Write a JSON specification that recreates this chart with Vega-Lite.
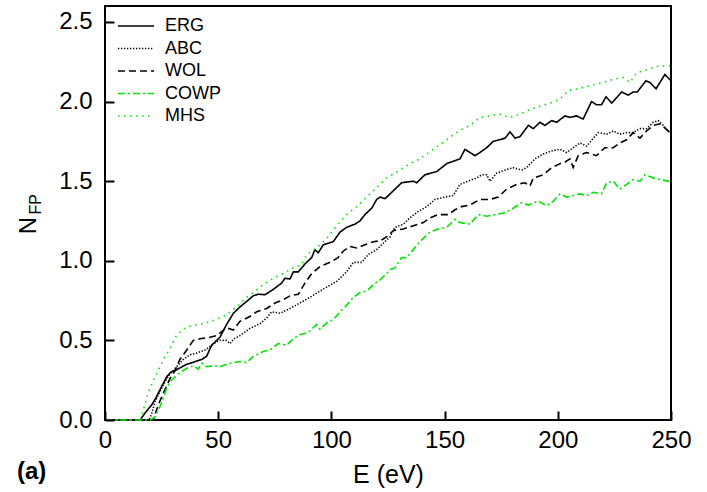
{
  "$schema": "https://vega.github.io/schema/vega-lite/v6.json",
  "width": 566,
  "height": 414,
  "autosize": {"type": "none"},
  "padding": {"left": 105, "top": 6, "right": 36, "bottom": 72},
  "background": "white",
  "config": {
    "font": "Liberation Sans",
    "view": {"stroke": "black", "strokeWidth": 2},
    "axis": {
      "grid": false,
      "labelFlush": false,
      "labelOverlap": false,
      "labelFont": "Liberation Sans",
      "labelFontSize": 24,
      "labelColor": "black",
      "titleFont": "Liberation Sans",
      "titleFontSize": 25,
      "titleFontWeight": "normal",
      "titleColor": "black"
    },
    "legend": {
      "orient": "none",
      "legendX": 12,
      "legendY": 10,
      "padding": 0,
      "title": null,
      "symbolType": "stroke",
      "symbolSize": 1296,
      "symbolStrokeWidth": 1.6,
      "labelFont": "Liberation Sans",
      "labelFontSize": 18,
      "labelColor": "black",
      "labelOffset": 10,
      "clipHeight": 20,
      "rowPadding": 2.5
    }
  },
  "title": {
    "text": "(a)",
    "orient": "bottom",
    "anchor": "start",
    "frame": "group",
    "font": "Liberation Sans",
    "fontSize": 24,
    "fontWeight": "bold",
    "color": "black",
    "dx": -88,
    "offset": -27
  },
  "data": {"values": [
    {"s":"ERG","E":0,"N":0},{"s":"ERG","E":5,"N":0},{"s":"ERG","E":10,"N":0},{"s":"ERG","E":15.5,"N":0},{"s":"ERG","E":18,"N":0.05},{"s":"ERG","E":20.6,"N":0.094},{"s":"ERG","E":22.5,"N":0.14},{"s":"ERG","E":24.3,"N":0.19},{"s":"ERG","E":27.2,"N":0.27},{"s":"ERG","E":29,"N":0.3},{"s":"ERG","E":30.9,"N":0.31},{"s":"ERG","E":33.5,"N":0.33},{"s":"ERG","E":36.1,"N":0.35},{"s":"ERG","E":38.5,"N":0.36},{"s":"ERG","E":40.5,"N":0.37},{"s":"ERG","E":42.7,"N":0.38},{"s":"ERG","E":44.9,"N":0.4},{"s":"ERG","E":47.1,"N":0.47},{"s":"ERG","E":48.6,"N":0.49},{"s":"ERG","E":50.8,"N":0.52},{"s":"ERG","E":53.7,"N":0.6},{"s":"ERG","E":56.7,"N":0.67},{"s":"ERG","E":59.6,"N":0.71},{"s":"ERG","E":62.6,"N":0.745},{"s":"ERG","E":65.5,"N":0.78},{"s":"ERG","E":67.7,"N":0.79},{"s":"ERG","E":70.7,"N":0.787},{"s":"ERG","E":74.3,"N":0.82},{"s":"ERG","E":78,"N":0.86},{"s":"ERG","E":79.5,"N":0.89},{"s":"ERG","E":81.7,"N":0.886},{"s":"ERG","E":83.2,"N":0.93},{"s":"ERG","E":85.4,"N":0.93},{"s":"ERG","E":88.3,"N":0.98},{"s":"ERG","E":91.3,"N":1.02},{"s":"ERG","E":92.7,"N":1.07},{"s":"ERG","E":94.2,"N":1.05},{"s":"ERG","E":96.4,"N":1.1},{"s":"ERG","E":100.8,"N":1.12},{"s":"ERG","E":103.8,"N":1.18},{"s":"ERG","E":106.7,"N":1.21},{"s":"ERG","E":110.4,"N":1.23},{"s":"ERG","E":112.6,"N":1.25},{"s":"ERG","E":114.8,"N":1.29},{"s":"ERG","E":117.8,"N":1.33},{"s":"ERG","E":120,"N":1.385},{"s":"ERG","E":121.5,"N":1.4},{"s":"ERG","E":123.7,"N":1.39},{"s":"ERG","E":125.9,"N":1.42},{"s":"ERG","E":127.4,"N":1.44},{"s":"ERG","E":131,"N":1.49},{"s":"ERG","E":136.2,"N":1.5},{"s":"ERG","E":137.7,"N":1.49},{"s":"ERG","E":141.3,"N":1.54},{"s":"ERG","E":146.5,"N":1.56},{"s":"ERG","E":150.9,"N":1.61},{"s":"ERG","E":156.8,"N":1.64},{"s":"ERG","E":159,"N":1.7},{"s":"ERG","E":163.4,"N":1.66},{"s":"ERG","E":165.6,"N":1.68},{"s":"ERG","E":168.6,"N":1.71},{"s":"ERG","E":171.5,"N":1.75},{"s":"ERG","E":176.7,"N":1.77},{"s":"ERG","E":178.9,"N":1.81},{"s":"ERG","E":181.1,"N":1.77},{"s":"ERG","E":183.3,"N":1.78},{"s":"ERG","E":187,"N":1.85},{"s":"ERG","E":189.2,"N":1.83},{"s":"ERG","E":192.1,"N":1.87},{"s":"ERG","E":194.3,"N":1.85},{"s":"ERG","E":197.3,"N":1.88},{"s":"ERG","E":199.5,"N":1.87},{"s":"ERG","E":203.2,"N":1.91},{"s":"ERG","E":205.4,"N":1.9},{"s":"ERG","E":208.3,"N":1.91},{"s":"ERG","E":211.2,"N":1.89},{"s":"ERG","E":214.9,"N":2.0},{"s":"ERG","E":217.1,"N":1.98},{"s":"ERG","E":219.3,"N":1.98},{"s":"ERG","E":221.3,"N":2.03},{"s":"ERG","E":223.8,"N":1.99},{"s":"ERG","E":228.2,"N":2.06},{"s":"ERG","E":231.1,"N":2.04},{"s":"ERG","E":233.3,"N":2.06},{"s":"ERG","E":235.1,"N":2.06},{"s":"ERG","E":238.9,"N":2.13},{"s":"ERG","E":240.7,"N":2.12},{"s":"ERG","E":243.4,"N":2.08},{"s":"ERG","E":247.3,"N":2.17},{"s":"ERG","E":250,"N":2.13},

    {"s":"ABC","E":0,"N":0},{"s":"ABC","E":10,"N":0},{"s":"ABC","E":19.5,"N":0},{"s":"ABC","E":20.6,"N":0.04},{"s":"ABC","E":22.1,"N":0.115},{"s":"ABC","E":24.3,"N":0.18},{"s":"ABC","E":26.5,"N":0.24},{"s":"ABC","E":28.7,"N":0.29},{"s":"ABC","E":31.7,"N":0.335},{"s":"ABC","E":34.6,"N":0.38},{"s":"ABC","E":37.5,"N":0.41},{"s":"ABC","E":40.5,"N":0.42},{"s":"ABC","E":44.2,"N":0.44},{"s":"ABC","E":47.1,"N":0.47},{"s":"ABC","E":49.3,"N":0.49},{"s":"ABC","E":50.8,"N":0.5},{"s":"ABC","E":53.7,"N":0.5},{"s":"ABC","E":55.2,"N":0.48},{"s":"ABC","E":57,"N":0.51},{"s":"ABC","E":59.6,"N":0.53},{"s":"ABC","E":64,"N":0.575},{"s":"ABC","E":68.5,"N":0.605},{"s":"ABC","E":71.4,"N":0.64},{"s":"ABC","E":73.6,"N":0.68},{"s":"ABC","E":77.3,"N":0.67},{"s":"ABC","E":81.7,"N":0.7},{"s":"ABC","E":86.1,"N":0.735},{"s":"ABC","E":90.5,"N":0.77},{"s":"ABC","E":95,"N":0.81},{"s":"ABC","E":98.6,"N":0.84},{"s":"ABC","E":102.3,"N":0.87},{"s":"ABC","E":106.7,"N":0.93},{"s":"ABC","E":109.7,"N":0.99},{"s":"ABC","E":113.4,"N":0.99},{"s":"ABC","E":116.3,"N":1.04},{"s":"ABC","E":120,"N":1.07},{"s":"ABC","E":122.9,"N":1.11},{"s":"ABC","E":125.9,"N":1.15},{"s":"ABC","E":128.1,"N":1.21},{"s":"ABC","E":131.8,"N":1.23},{"s":"ABC","E":134.7,"N":1.27},{"s":"ABC","E":138.4,"N":1.31},{"s":"ABC","E":142.1,"N":1.34},{"s":"ABC","E":145.8,"N":1.385},{"s":"ABC","E":150.2,"N":1.4},{"s":"ABC","E":153.8,"N":1.41},{"s":"ABC","E":156.8,"N":1.48},{"s":"ABC","E":160.4,"N":1.5},{"s":"ABC","E":164.2,"N":1.52},{"s":"ABC","E":166.4,"N":1.54},{"s":"ABC","E":168.6,"N":1.54},{"s":"ABC","E":170,"N":1.5},{"s":"ABC","E":173,"N":1.55},{"s":"ABC","E":176.7,"N":1.57},{"s":"ABC","E":180.3,"N":1.585},{"s":"ABC","E":184,"N":1.57},{"s":"ABC","E":186.2,"N":1.585},{"s":"ABC","E":189.9,"N":1.64},{"s":"ABC","E":193.6,"N":1.67},{"s":"ABC","E":197.3,"N":1.69},{"s":"ABC","E":201,"N":1.7},{"s":"ABC","E":203.9,"N":1.68},{"s":"ABC","E":206.8,"N":1.71},{"s":"ABC","E":209.8,"N":1.74},{"s":"ABC","E":212.7,"N":1.72},{"s":"ABC","E":215.7,"N":1.77},{"s":"ABC","E":217.9,"N":1.805},{"s":"ABC","E":221.6,"N":1.795},{"s":"ABC","E":224.5,"N":1.815},{"s":"ABC","E":227.4,"N":1.795},{"s":"ABC","E":230.4,"N":1.805},{"s":"ABC","E":233.3,"N":1.805},{"s":"ABC","E":236.3,"N":1.83},{"s":"ABC","E":239.2,"N":1.83},{"s":"ABC","E":242.2,"N":1.87},{"s":"ABC","E":244.4,"N":1.88},{"s":"ABC","E":246.6,"N":1.85},{"s":"ABC","E":248.8,"N":1.815},{"s":"ABC","E":250,"N":1.8},

    {"s":"WOL","E":0,"N":0},{"s":"WOL","E":10,"N":0},{"s":"WOL","E":21.3,"N":0},{"s":"WOL","E":23.5,"N":0.094},{"s":"WOL","E":25.8,"N":0.17},{"s":"WOL","E":28.7,"N":0.26},{"s":"WOL","E":30.9,"N":0.31},{"s":"WOL","E":33.1,"N":0.38},{"s":"WOL","E":36.1,"N":0.44},{"s":"WOL","E":39,"N":0.5},{"s":"WOL","E":42,"N":0.51},{"s":"WOL","E":46.4,"N":0.52},{"s":"WOL","E":49.3,"N":0.53},{"s":"WOL","E":53.7,"N":0.58},{"s":"WOL","E":56.7,"N":0.565},{"s":"WOL","E":59.6,"N":0.62},{"s":"WOL","E":64,"N":0.65},{"s":"WOL","E":67,"N":0.68},{"s":"WOL","E":71.4,"N":0.7},{"s":"WOL","E":75.1,"N":0.735},{"s":"WOL","E":78.7,"N":0.755},{"s":"WOL","E":81.7,"N":0.78},{"s":"WOL","E":85.4,"N":0.79},{"s":"WOL","E":88.3,"N":0.86},{"s":"WOL","E":91.3,"N":0.92},{"s":"WOL","E":95,"N":0.965},{"s":"WOL","E":99.4,"N":0.99},{"s":"WOL","E":103,"N":1.02},{"s":"WOL","E":105.2,"N":1.06},{"s":"WOL","E":108.2,"N":1.09},{"s":"WOL","E":111.2,"N":1.08},{"s":"WOL","E":114.8,"N":1.1},{"s":"WOL","E":118.5,"N":1.12},{"s":"WOL","E":121.5,"N":1.125},{"s":"WOL","E":124.4,"N":1.15},{"s":"WOL","E":127.4,"N":1.19},{"s":"WOL","E":131.8,"N":1.2},{"s":"WOL","E":136.2,"N":1.22},{"s":"WOL","E":140.6,"N":1.24},{"s":"WOL","E":143.6,"N":1.27},{"s":"WOL","E":147.2,"N":1.29},{"s":"WOL","E":151.6,"N":1.29},{"s":"WOL","E":154.6,"N":1.32},{"s":"WOL","E":157.5,"N":1.34},{"s":"WOL","E":161.2,"N":1.35},{"s":"WOL","E":165.6,"N":1.385},{"s":"WOL","E":170,"N":1.385},{"s":"WOL","E":173.7,"N":1.4},{"s":"WOL","E":177.4,"N":1.45},{"s":"WOL","E":181.8,"N":1.48},{"s":"WOL","E":185.5,"N":1.49},{"s":"WOL","E":187.7,"N":1.47},{"s":"WOL","E":189.2,"N":1.52},{"s":"WOL","E":193.6,"N":1.54},{"s":"WOL","E":197.3,"N":1.585},{"s":"WOL","E":201,"N":1.61},{"s":"WOL","E":203.2,"N":1.62},{"s":"WOL","E":205.4,"N":1.64},{"s":"WOL","E":206.8,"N":1.585},{"s":"WOL","E":209,"N":1.66},{"s":"WOL","E":212.7,"N":1.68},{"s":"WOL","E":217.1,"N":1.66},{"s":"WOL","E":220.8,"N":1.71},{"s":"WOL","E":224.5,"N":1.71},{"s":"WOL","E":227.4,"N":1.74},{"s":"WOL","E":230.4,"N":1.76},{"s":"WOL","E":233.3,"N":1.805},{"s":"WOL","E":236.3,"N":1.77},{"s":"WOL","E":239.2,"N":1.815},{"s":"WOL","E":242.2,"N":1.85},{"s":"WOL","E":245.1,"N":1.86},{"s":"WOL","E":248.8,"N":1.815},{"s":"WOL","E":250,"N":1.82},

    {"s":"COWP","E":0,"N":0},{"s":"COWP","E":10,"N":0},{"s":"COWP","E":20,"N":0},{"s":"COWP","E":22.1,"N":0.02},{"s":"COWP","E":24.3,"N":0.085},{"s":"COWP","E":25.8,"N":0.14},{"s":"COWP","E":27.2,"N":0.2},{"s":"COWP","E":29.4,"N":0.25},{"s":"COWP","E":32.4,"N":0.29},{"s":"COWP","E":36.1,"N":0.325},{"s":"COWP","E":39,"N":0.34},{"s":"COWP","E":41.2,"N":0.32},{"s":"COWP","E":42.7,"N":0.357},{"s":"COWP","E":44.9,"N":0.335},{"s":"COWP","E":47.8,"N":0.34},{"s":"COWP","E":50.8,"N":0.335},{"s":"COWP","E":55.2,"N":0.357},{"s":"COWP","E":59.6,"N":0.367},{"s":"COWP","E":62.6,"N":0.36},{"s":"COWP","E":65.5,"N":0.4},{"s":"COWP","E":69.9,"N":0.43},{"s":"COWP","E":72.9,"N":0.44},{"s":"COWP","E":76.5,"N":0.48},{"s":"COWP","E":80.2,"N":0.47},{"s":"COWP","E":83.2,"N":0.51},{"s":"COWP","E":86.1,"N":0.535},{"s":"COWP","E":89.8,"N":0.55},{"s":"COWP","E":93.5,"N":0.6},{"s":"COWP","E":95,"N":0.57},{"s":"COWP","E":97.9,"N":0.61},{"s":"COWP","E":100.8,"N":0.63},{"s":"COWP","E":103.8,"N":0.68},{"s":"COWP","E":106.7,"N":0.72},{"s":"COWP","E":109.7,"N":0.77},{"s":"COWP","E":112.6,"N":0.8},{"s":"COWP","E":115.6,"N":0.81},{"s":"COWP","E":118.5,"N":0.85},{"s":"COWP","E":121.5,"N":0.88},{"s":"COWP","E":124.4,"N":0.92},{"s":"COWP","E":126,"N":0.945},{"s":"COWP","E":128.1,"N":0.955},{"s":"COWP","E":131,"N":1.02},{"s":"COWP","E":133.2,"N":1.02},{"s":"COWP","E":136.2,"N":1.07},{"s":"COWP","E":139.1,"N":1.12},{"s":"COWP","E":143.5,"N":1.18},{"s":"COWP","E":147.2,"N":1.2},{"s":"COWP","E":150.9,"N":1.21},{"s":"COWP","E":154.6,"N":1.26},{"s":"COWP","E":156.8,"N":1.24},{"s":"COWP","E":161.2,"N":1.23},{"s":"COWP","E":164.9,"N":1.29},{"s":"COWP","E":168.6,"N":1.28},{"s":"COWP","E":172.3,"N":1.29},{"s":"COWP","E":176,"N":1.3},{"s":"COWP","E":180.3,"N":1.33},{"s":"COWP","E":184,"N":1.365},{"s":"COWP","E":187,"N":1.35},{"s":"COWP","E":191.4,"N":1.375},{"s":"COWP","E":195.1,"N":1.345},{"s":"COWP","E":198,"N":1.375},{"s":"COWP","E":201,"N":1.42},{"s":"COWP","E":203.9,"N":1.4},{"s":"COWP","E":206.8,"N":1.41},{"s":"COWP","E":209.8,"N":1.42},{"s":"COWP","E":212.7,"N":1.41},{"s":"COWP","E":215.7,"N":1.43},{"s":"COWP","E":219.3,"N":1.42},{"s":"COWP","E":221.6,"N":1.49},{"s":"COWP","E":224.5,"N":1.5},{"s":"COWP","E":227.4,"N":1.45},{"s":"COWP","E":230.4,"N":1.48},{"s":"COWP","E":233.3,"N":1.51},{"s":"COWP","E":236.3,"N":1.5},{"s":"COWP","E":238.5,"N":1.54},{"s":"COWP","E":242.2,"N":1.52},{"s":"COWP","E":245.1,"N":1.51},{"s":"COWP","E":248.8,"N":1.5},{"s":"COWP","E":250,"N":1.5},

    {"s":"MHS","E":0,"N":0},{"s":"MHS","E":5,"N":0},{"s":"MHS","E":10,"N":0},{"s":"MHS","E":15.8,"N":0},{"s":"MHS","E":16.9,"N":0.06},{"s":"MHS","E":18.4,"N":0.14},{"s":"MHS","E":19.9,"N":0.2},{"s":"MHS","E":22.1,"N":0.27},{"s":"MHS","E":25.8,"N":0.38},{"s":"MHS","E":28.7,"N":0.45},{"s":"MHS","E":31.7,"N":0.535},{"s":"MHS","E":36.1,"N":0.585},{"s":"MHS","E":42,"N":0.6},{"s":"MHS","E":47.8,"N":0.625},{"s":"MHS","E":53.7,"N":0.66},{"s":"MHS","E":58.9,"N":0.72},{"s":"MHS","E":62.6,"N":0.77},{"s":"MHS","E":65.5,"N":0.8},{"s":"MHS","E":69.9,"N":0.85},{"s":"MHS","E":74.3,"N":0.89},{"s":"MHS","E":78.7,"N":0.92},{"s":"MHS","E":83.2,"N":0.955},{"s":"MHS","E":86.9,"N":0.976},{"s":"MHS","E":89.1,"N":1.04},{"s":"MHS","E":93.5,"N":1.08},{"s":"MHS","E":97.9,"N":1.14},{"s":"MHS","E":102.3,"N":1.22},{"s":"MHS","E":106.7,"N":1.29},{"s":"MHS","E":111.2,"N":1.34},{"s":"MHS","E":115.6,"N":1.4},{"s":"MHS","E":120,"N":1.46},{"s":"MHS","E":124.4,"N":1.52},{"s":"MHS","E":130.3,"N":1.57},{"s":"MHS","E":134.7,"N":1.61},{"s":"MHS","E":139.1,"N":1.64},{"s":"MHS","E":145,"N":1.7},{"s":"MHS","E":150.9,"N":1.76},{"s":"MHS","E":156.8,"N":1.82},{"s":"MHS","E":161.2,"N":1.85},{"s":"MHS","E":165.6,"N":1.9},{"s":"MHS","E":170,"N":1.91},{"s":"MHS","E":174.4,"N":1.92},{"s":"MHS","E":178.9,"N":1.9},{"s":"MHS","E":183.3,"N":1.92},{"s":"MHS","E":187.7,"N":1.95},{"s":"MHS","E":192.1,"N":1.97},{"s":"MHS","E":196.6,"N":1.99},{"s":"MHS","E":201,"N":2.015},{"s":"MHS","E":204.6,"N":2.07},{"s":"MHS","E":209,"N":2.08},{"s":"MHS","E":214.2,"N":2.1},{"s":"MHS","E":220.1,"N":2.12},{"s":"MHS","E":224.5,"N":2.14},{"s":"MHS","E":228.9,"N":2.15},{"s":"MHS","E":231.9,"N":2.12},{"s":"MHS","E":234.8,"N":2.18},{"s":"MHS","E":239.2,"N":2.2},{"s":"MHS","E":243.6,"N":2.22},{"s":"MHS","E":248.8,"N":2.225},{"s":"MHS","E":250,"N":2.22}
  ]},
  "layer": [
    {
      "mark": {"type": "line", "strokeWidth": 1.6},
      "encoding": {
        "x": {"field": "E", "type": "quantitative", "scale": {"domain": [0, 250], "nice": false},
              "axis": {"values": [0, 50, 100, 150, 200, 250], "title": "E (eV)", "labelPadding": 8, "titlePadding": 10,
                       "domain": false, "ticks": true, "tickColor": "black", "tickSize": 9, "tickWidth": 2, "offset": -9, "zindex": 1}},
        "y": {"field": "N", "type": "quantitative", "scale": {"domain": [0, 2.6], "nice": false},
              "axis": {"values": [0, 0.5, 1, 1.5, 2, 2.5], "format": ".1f", "title": "N", "labelPadding": 13,
                       "domain": false, "ticks": true, "tickColor": "black", "tickSize": 9, "tickWidth": 2, "offset": -9, "zindex": 1,
                       "titleFontSize": 24, "titleAngle": 270, "titleAlign": "center", "titleBaseline": "middle",
                       "titleX": -85.5, "titleY": 219}},
        "color": {"field": "s", "type": "nominal",
                  "scale": {"domain": ["ERG", "ABC", "WOL", "COWP", "MHS"], "range": ["#000000", "#000000", "#000000", "#00e600", "#00e600"]},
                  "legend": {"labelFontSize": 18, "title": null}},
        "strokeDash": {"field": "s", "type": "nominal",
                  "scale": {"domain": ["ERG", "ABC", "WOL", "COWP", "MHS"], "range": [[1, 0], [1.3, 1.7], [7, 4], [7, 3, 2, 3], [1.5, 4.5]]},
                  "legend": {"labelFontSize": 18, "title": null}}
      }
    },
    {
      "transform": [{"filter": "datum.s == 'ERG' && datum.E == 0"}],
      "mark": {"type": "text", "text": "FP", "angle": 270, "fontSize": 16, "align": "center", "baseline": "middle", "clip": false, "color": "black", "font": "Liberation Sans"},
      "encoding": {
        "x": {"datum": -30.5, "type": "quantitative"},
        "y": {"datum": 1.354, "type": "quantitative"}
      }
    }
  ]
}
